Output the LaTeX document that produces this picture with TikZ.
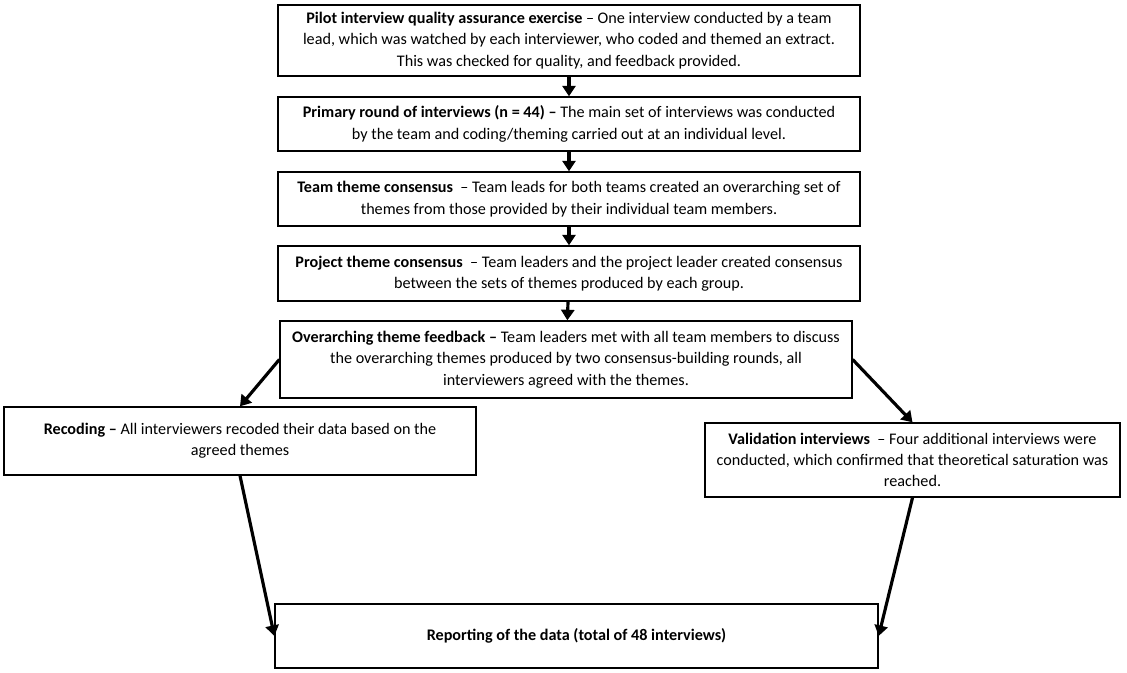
\documentclass[tikz,border=0pt]{standalone}
\usepackage{fontspec}
\setmainfont{Carlito}
\usetikzlibrary{arrows.meta, positioning}
\tikzset{
    stepbox/.style={rectangle, draw=black, line width=0.8pt, fill=white, align=center, inner sep=2pt, font=\fontsize{9.2}{12.1}\selectfont},
    flow/.style={-{Triangle[length=6pt, width=7.5pt]}, line width=1.8pt, black},
}

\begin{document}
\begin{tikzpicture}[x=0.02cm, y=-0.02cm]
    \useasboundingbox (0,0) rectangle (1127,673);
    \node[stepbox, minimum width=11.64cm, minimum height=1.42cm] (pilot) at (569,40.5) {\textbf{Pilot interview quality assurance exercise} -- One interview conducted by a team\\ lead, which was watched by each interviewer, who coded and themed an extract.\\ This was checked for quality, and feedback provided.};
    \node[stepbox, minimum width=11.64cm, minimum height=1.08cm] (primary) at (569,124) {\textbf{Primary round of interviews (n = 44) --} The main set of interviews was conducted\\ by the team and coding/theming carried out at an individual level.};
    \node[stepbox, minimum width=11.64cm, minimum height=1.08cm] (teamcon) at (569,199) {\textbf{Team theme consensus}\ \ -- Team leads for both teams created an overarching set of\\ themes from those provided by their individual team members.};
    \node[stepbox, minimum width=11.64cm, minimum height=1.10cm] (projcon) at (569,273.5) {\textbf{Project theme consensus}\ \ -- Team leaders and the project leader created consensus\\ between the sets of themes produced by each group.};
    \node[stepbox, minimum width=11.44cm, minimum height=1.54cm] (overfb) at (566,359.5) {\textbf{Overarching theme feedback --} Team leaders met with all team members to discuss\\ the overarching themes produced by two consensus-building rounds, all\\ interviewers agreed with the themes.};
    \node[stepbox, minimum width=9.44cm, minimum height=1.36cm] (recode) at (240,441) {\textbf{Recoding --} All interviewers recoded their data based on the\\ agreed themes};
    \node[stepbox, minimum width=8.30cm, minimum height=1.48cm] (valid) at (912.5,460) {\textbf{Validation interviews}\ \ -- Four additional interviews were\\ conducted, which confirmed that theoretical saturation was\\ reached.};
    \node[stepbox, minimum width=12.06cm, minimum height=1.28cm] (report) at (576.5,636) {\textbf{Reporting of the data (total of 48 interviews)}};

    \draw[flow] (pilot) -- (primary);
    \draw[flow] (primary) -- (teamcon);
    \draw[flow] (teamcon) -- (projcon);
    \draw[flow] (projcon) -- (overfb);
    \draw[flow] (overfb.west) -- (recode.north);
    \draw[flow] (overfb.east) -- (valid.north);
    \draw[flow] (recode.south) -- (report.west);
    \draw[flow] (valid.south) -- (report.east);
\end{tikzpicture}
\end{document}
